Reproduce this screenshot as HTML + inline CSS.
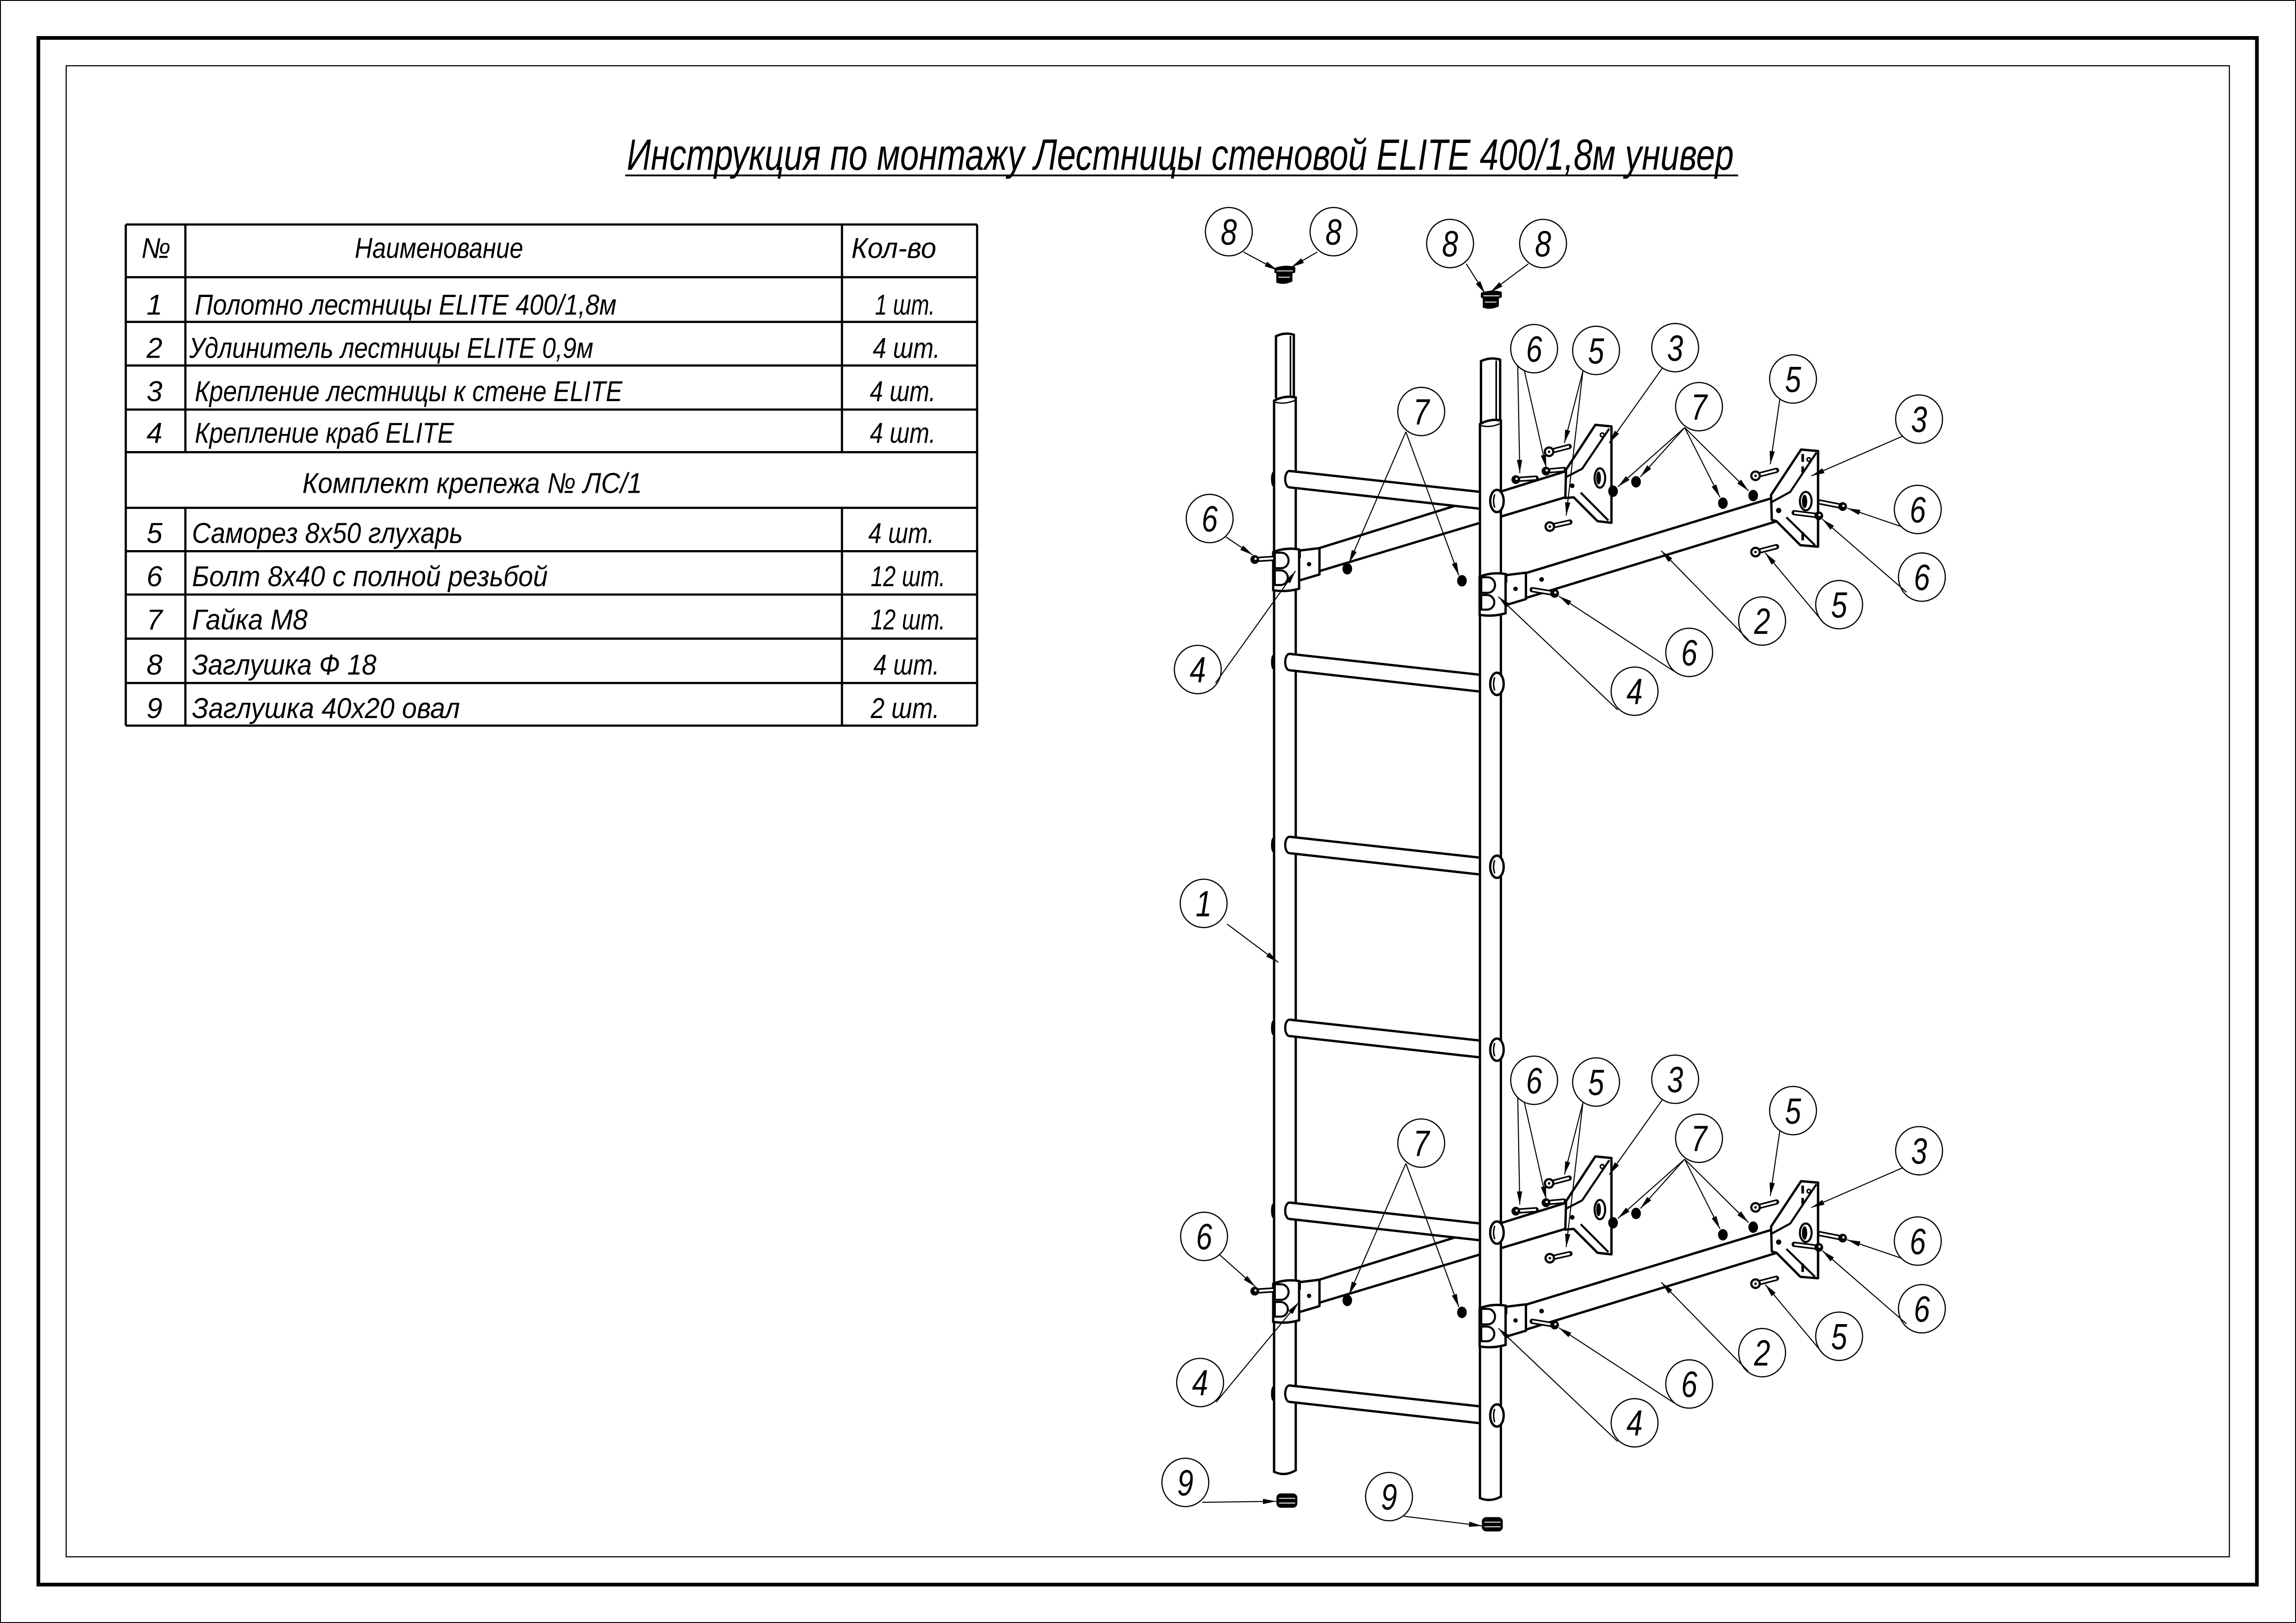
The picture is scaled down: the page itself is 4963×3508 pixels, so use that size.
<!DOCTYPE html>
<html><head><meta charset="utf-8"><style>
html,body{margin:0;padding:0;background:#fff;}
svg{display:block}
text{font-family:"Liberation Sans","DejaVu Sans",sans-serif;font-style:italic;fill:#000}
.lb{font-size:25px;text-anchor:middle}
.tb{font-size:19.5px}
.tm{font-size:19.5px;text-anchor:middle}
</style></head><body>
<svg xmlns="http://www.w3.org/2000/svg" width="4963" height="3508" viewBox="0 0 4963 3508">
<defs>
<marker id="ar" viewBox="0 0 10 4" refX="10" refY="2" markerWidth="9" markerHeight="3.6" markerUnits="userSpaceOnUse" orient="auto"><path d="M0,0 L10,2 L0,4 Z" fill="#000"/></marker>
</defs>
<rect x="0" y="0" width="4963" height="3508" fill="#fff"/>
<rect x="1" y="1" width="4961" height="3506" fill="none" stroke="#000" stroke-width="2"/>
<g transform="scale(3.16518)">
<defs>
 <g id="rung">
  <ellipse cx="880.6" cy="327.2" rx="2.9" ry="5.6" fill="#fff" stroke="#000" stroke-width="1.5"/>
  <path d="M880.6,321.6 L1012,336 L1012,347.5 L880.6,332.8 Z" fill="#fff"/>
  <path d="M880.6,321.6 L1011,335.9 M880.6,332.8 L1011,347.4" stroke="#000" stroke-width="1.6" fill="none"/>
  <ellipse cx="869.4" cy="327.2" rx="1.4" ry="5" fill="#000"/>
 </g>
 <g id="rell">
  <ellipse cx="1022.3" cy="342.1" rx="4.6" ry="7.6" fill="#fff" stroke="#000" stroke-width="1.6"/>
  <path d="M1020.8,337.6 Q1019.2,342.1 1020.8,346.6" fill="none" stroke="#000" stroke-width="1"/>
 </g>
 <g id="back">
  <path d="M901,374.3 L1081.6,318 L1079.5,336.4 L901,390" fill="#fff" stroke="#000" stroke-width="1.6" stroke-linejoin="round"/>
 </g>
 <g id="b4">
  <path d="M887,376 L901.1,374.3 L901.1,392.3 L887,396.5 Z" fill="#fff" stroke="#000" stroke-width="1.6" stroke-linejoin="round"/>
  <path d="M869.5,377 Q878,373.6 887.2,375.2 L887.2,402 Q878,404.6 869.5,403 Z" fill="#fff" stroke="#000" stroke-width="1.6"/>
  <path d="M870.6,377.4 L875,377.4 A5,5.3 0 0 1 875,388 L870.6,388 Z M870.6,389.5 L874.5,389.5 A5,5 0 0 1 874.5,399.5 L870.6,399.5 Z" fill="none" stroke="#000" stroke-width="1.4"/>
  <circle cx="894" cy="385.3" r="1.5" fill="#000"/>
  <path d="M887.8,376.5 L887.8,381" stroke="#000" stroke-width="1.2"/>
 </g>
 <g id="front">
  <path d="M1035,393.5 L1222,336.5 L1213.2,356 L1035,410.5 Z" fill="#fff" stroke="#000" stroke-width="1.6" stroke-linejoin="round"/>
  <use href="#b4"/>
  <use href="#b4" transform="translate(141,16.8)"/>
  <path d="M1069.5,320.7 L1089.5,290.1 L1100.5,291.2 L1100.5,357 L1091,355.9 L1074.7,339.6 L1069,340.1 Z" fill="#fff" stroke="#000" stroke-width="1.6" stroke-linejoin="round"/>
  <path d="M1099,292.7 L1080.5,320.1 L1069.3,325.9 M1079.5,336.4 L1098.4,355.4" fill="none" stroke="#000" stroke-width="1.4"/>
  <ellipse cx="1092.6" cy="326.4" rx="3.6" ry="6.6" fill="#fff" stroke="#000" stroke-width="1.4"/>
  <ellipse cx="1091.7" cy="326.4" rx="1.6" ry="4.5" fill="#000"/>
  <circle cx="1073.7" cy="331.7" r="1.6" fill="#000"/>
  <circle cx="1094.2" cy="297" r="1.3" fill="none" stroke="#000" stroke-width="1"/>
  <path d="M1209.5,338 L1230,307 L1241.6,308 L1241.6,373.3 L1229.5,372.3 L1213.2,355.9 L1210,355 Z" fill="#fff" stroke="#000" stroke-width="1.6" stroke-linejoin="round"/>
  <path d="M1240.5,309.1 L1222.6,335.9 L1210,342.8 M1220,353.3 L1239.5,372.3" fill="none" stroke="#000" stroke-width="1.4"/>
  <ellipse cx="1233.2" cy="342.2" rx="4" ry="6.3" fill="#fff" stroke="#000" stroke-width="1.4"/>
  <ellipse cx="1232.4" cy="342.4" rx="1.8" ry="4.6" fill="#000"/>
  <circle cx="1214.7" cy="348.6" r="1.8" fill="#000"/>
  <circle cx="1235.3" cy="313.8" r="1.2" fill="none" stroke="#000" stroke-width="1"/>
  <path d="M1231.1,310 V315.4 M1231.1,318.5 V322.8 M1231.1,363.3 V369" stroke="#000" stroke-width="1.8"/>
  <circle cx="1052.8" cy="395.7" r="1.6" fill="#000"/>
  <g stroke="#000" stroke-width="3.6" stroke-linecap="round" fill="none">
   <path d="M856.9,382.1 L869.5,381.3"/>
   <path d="M1035.2,327.5 L1049,326.5"/>
   <path d="M1055.8,321.7 L1068,320.6"/>
   <path d="M1057.9,308.5 L1071.6,304.9"/>
   <path d="M1058.4,359.6 L1072.1,356.5"/>
   <path d="M1198.9,324.9 L1213.2,321.2"/>
   <path d="M1198.9,377 L1213.2,373.3"/>
   <path d="M1242.6,342.8 L1258.4,345.9"/>
   <path d="M1225.3,350.1 L1242.1,352.2"/>
   <path d="M1046.4,402.7 L1061.7,405.2"/>
  </g>
  <g stroke="#fff" stroke-width="1.4" fill="none">
   <path d="M856.9,382.1 L869.5,381.3"/>
   <path d="M1035.2,327.5 L1049,326.5"/>
   <path d="M1055.8,321.7 L1068,320.6"/>
   <path d="M1057.9,308.5 L1071.6,304.9"/>
   <path d="M1058.4,359.6 L1072.1,356.5"/>
   <path d="M1198.9,324.9 L1213.2,321.2"/>
   <path d="M1198.9,377 L1213.2,373.3"/>
   <path d="M1242.6,342.8 L1258.4,345.9"/>
   <path d="M1225.3,350.1 L1242.1,352.2"/>
   <path d="M1046.4,402.7 L1061.7,405.2"/>
  </g>
  <g fill="#000">
   <circle cx="856.9" cy="382.1" r="3"/>
   <circle cx="1035.2" cy="327.5" r="3"/>
   <circle cx="1055.8" cy="321.7" r="3"/>
   <circle cx="1258.4" cy="345.9" r="3"/>
   <circle cx="1242.1" cy="352.2" r="3"/>
   <circle cx="1061.7" cy="405.2" r="3"/>
  </g>
  <g fill="#fff">
   <circle cx="857.4" cy="381.6" r="0.8"/>
   <circle cx="1035.7" cy="327" r="0.8"/>
   <circle cx="1056.3" cy="321.2" r="0.8"/>
   <circle cx="1258.9" cy="345.4" r="0.8"/>
   <circle cx="1242.6" cy="351.7" r="0.8"/>
   <circle cx="1062.2" cy="404.7" r="0.8"/>
  </g>
  <g fill="#fff" stroke="#000" stroke-width="1.5">
   <circle cx="1057.9" cy="308.5" r="2.9"/>
   <circle cx="1058.4" cy="359.6" r="2.9"/>
   <circle cx="1198.9" cy="324.9" r="2.9"/>
   <circle cx="1198.9" cy="377" r="2.9"/>
  </g>
  <g fill="#000">
   <circle cx="1057.9" cy="308.5" r="0.9"/>
   <circle cx="1058.4" cy="359.6" r="0.9"/>
   <circle cx="1198.9" cy="324.9" r="0.9"/>
   <circle cx="1198.9" cy="377" r="0.9"/>
  </g>
  <g fill="#000">
   <ellipse cx="920.1" cy="388.4" rx="3.3" ry="3.9"/>
   <ellipse cx="998.4" cy="396.6" rx="3.3" ry="3.9"/>
   <ellipse cx="1101.6" cy="335.4" rx="3.3" ry="3.9"/>
   <ellipse cx="1117.3" cy="329" rx="3.3" ry="3.9"/>
   <ellipse cx="1176.6" cy="343.6" rx="3.3" ry="3.9"/>
   <ellipse cx="1197.3" cy="338.4" rx="3.3" ry="3.9"/>
  </g>
  <g stroke="#000" stroke-width="0.7" fill="none" marker-end="url(#ar)">
   <path d="M1036.5,249.5 L1037.9,323"/>
   <path d="M1041,253 L1056,319.5"/>
   <path d="M1081,253.5 L1068.4,302.5"/>
   <path d="M1081,253.5 L1069.6,352"/>
   <path d="M1135.5,251 L1099,302.5"/>
   <path d="M1150.5,292 L1104.9,332.4"/>
   <path d="M1150.5,292 L1120.3,325.6"/>
   <path d="M1150.5,292 L1174.6,339.6"/>
   <path d="M1150.5,292 L1194.1,335.2"/>
   <path d="M1215.5,272.5 L1209,317"/>
   <path d="M1299,298 L1237,325"/>
   <path d="M1299.1,359.8 L1261.5,347"/>
   <path d="M1302,404.4 L1244.5,354.5"/>
   <path d="M1246,426 L1205.5,377.5"/>
   <path d="M1194,437 L1134.5,376.1"/>
   <path d="M1143.1,458.3 L1064.6,407.1"/>
   <path d="M1104.8,484.8 L1023.3,407.5"/>
   <path d="M960.1,294.9 L921.3,384.5"/>
   <path d="M960.1,294.9 L996.3,393"/>
  </g>
  <g fill="none" stroke="#000" stroke-width="0.8">
   <ellipse cx="1047.7" cy="238.1" rx="16" ry="16.5"/>
   <ellipse cx="1090" cy="239.3" rx="16" ry="16.5"/>
   <ellipse cx="1144" cy="237.4" rx="16" ry="16.5"/>
   <ellipse cx="1160.3" cy="277.7" rx="16" ry="16.5"/>
   <ellipse cx="1224.5" cy="258.8" rx="16" ry="16.5"/>
   <ellipse cx="1310.6" cy="286.2" rx="16" ry="16.5"/>
   <ellipse cx="1309.7" cy="347.9" rx="16" ry="16.5"/>
   <ellipse cx="1312.5" cy="394.1" rx="16" ry="16.5"/>
   <ellipse cx="1256" cy="412.9" rx="16" ry="16.5"/>
   <ellipse cx="1203.4" cy="424.1" rx="16" ry="16.5"/>
   <ellipse cx="1153.6" cy="445.5" rx="16" ry="16.5"/>
   <ellipse cx="1116.3" cy="472" rx="16" ry="16.5"/>
   <ellipse cx="970.6" cy="281" rx="16" ry="16.5"/>
  </g>
 </g>
 <g id="cap8">
  <path d="M870.3,183 Q877.5,180.3 884.6,182.3 L884.6,186 L882.6,186.8 L882.6,192.2 Q877,195 871.6,193 L871.6,186.8 L870.3,186 Z" fill="#000"/>
  <path d="M873,189.3 L881,189.3 M872,185 L883,185" stroke="#fff" stroke-width="0.6"/>
 </g>
 <g id="cap9">
  <rect x="871.7" y="1019.8" width="14.3" height="9.8" rx="3" fill="#000"/>
  <path d="M873.5,1023.2 L884.5,1023.2 M873.5,1026.4 L884.5,1026.4" stroke="#fff" stroke-width="0.6"/>
 </g>
</defs>

<rect x="26.2" y="25.9" width="1515.1" height="1056.2" fill="none" stroke="#000" stroke-width="2.53"/>
<rect x="45.2" y="44.9" width="1477.3" height="1018.2" fill="none" stroke="#000" stroke-width="0.75"/>

<text x="428" y="116" style="font-size:30px" textLength="756" lengthAdjust="spacingAndGlyphs">Инструкция по монтажу Лестницы стеновой ELITE 400/1,8м универ</text>
<path d="M427,119.8 L1187,119.8" stroke="#000" stroke-width="1.25"/>

<g stroke="#000" stroke-width="1.5" fill="none">
 <path d="M85.9,153.3 L667.3,153.3 M85.9,189.3 L667.3,189.3 M85.9,219.8 L667.3,219.8 M85.9,249.6 L667.3,249.6 M85.9,279.7 L667.3,279.7 M85.9,308.8 L667.3,308.8 M85.9,346.8 L667.3,346.8 M85.9,376.4 L667.3,376.4 M85.9,406 L667.3,406 M85.9,436.1 L667.3,436.1 M85.9,466.4 L667.3,466.4 M85.9,495.5 L667.3,495.5"/>
 <path d="M85.9,153.3 L85.9,495.5 M667.3,153.3 L667.3,495.5 M126.6,153.3 L126.6,308.8 M575,153.3 L575,308.8 M126.6,346.8 L126.6,495.5 M575,346.8 L575,495.5"/>
</g>
<text class="tm" x="106.5" y="176.1" textLength="20" lengthAdjust="spacingAndGlyphs">№</text>
<text class="tb" x="242.3" y="176.1" textLength="115" lengthAdjust="spacingAndGlyphs">Наименование</text>
<text class="tb" x="581.4" y="176.1" textLength="58" lengthAdjust="spacingAndGlyphs">Кол-во</text>

<text class="tm" x="105.5" y="214.8">1</text>
<text class="tb" x="133" y="214.8" textLength="288" lengthAdjust="spacingAndGlyphs">Полотно лестницы ELITE 400/1,8м</text>
<text class="tb" x="597.5" y="214.8" textLength="41" lengthAdjust="spacingAndGlyphs">1 шт.</text>

<text class="tm" x="105.5" y="244.4">2</text>
<text class="tb" x="129.2" y="244.4" textLength="276" lengthAdjust="spacingAndGlyphs">Удлинитель лестницы ELITE 0,9м</text>
<text class="tb" x="596" y="244.4" textLength="46" lengthAdjust="spacingAndGlyphs">4 шт.</text>

<text class="tm" x="105.5" y="274">3</text>
<text class="tb" x="133" y="274" textLength="292" lengthAdjust="spacingAndGlyphs">Крепление лестницы к стене ELITE</text>
<text class="tb" x="594" y="274" textLength="45" lengthAdjust="spacingAndGlyphs">4 шт.</text>

<text class="tm" x="105.5" y="302.4">4</text>
<text class="tb" x="133" y="302.4" textLength="177" lengthAdjust="spacingAndGlyphs">Крепление краб ELITE</text>
<text class="tb" x="594" y="302.4" textLength="45" lengthAdjust="spacingAndGlyphs">4 шт.</text>

<text class="tb" x="206.5" y="336.6" textLength="232" lengthAdjust="spacingAndGlyphs">Комплект крепежа № ЛС/1</text>

<text class="tm" x="105.5" y="370.8">5</text>
<text class="tb" x="131.1" y="370.8" textLength="185" lengthAdjust="spacingAndGlyphs">Саморез 8x50 глухарь</text>
<text class="tb" x="593" y="370.8" textLength="45" lengthAdjust="spacingAndGlyphs">4 шт.</text>

<text class="tm" x="105.5" y="400.3">6</text>
<text class="tb" x="131.1" y="400.3" textLength="243" lengthAdjust="spacingAndGlyphs">Болт 8x40 с полной резьбой</text>
<text class="tb" x="594.6" y="400.3" textLength="51" lengthAdjust="spacingAndGlyphs">12 шт.</text>

<text class="tm" x="105.5" y="429.9">7</text>
<text class="tb" x="131.1" y="429.9" textLength="79" lengthAdjust="spacingAndGlyphs">Гайка М8</text>
<text class="tb" x="594.6" y="429.9" textLength="51" lengthAdjust="spacingAndGlyphs">12 шт.</text>

<text class="tm" x="105.5" y="460.7">8</text>
<text class="tb" x="131.1" y="460.7" textLength="126" lengthAdjust="spacingAndGlyphs">Заглушка Ф 18</text>
<text class="tb" x="596.5" y="460.7" textLength="45" lengthAdjust="spacingAndGlyphs">4 шт.</text>

<text class="tm" x="105.5" y="490.3">9</text>
<text class="tb" x="131.1" y="490.3" textLength="183" lengthAdjust="spacingAndGlyphs">Заглушка 40x20 овал</text>
<text class="tb" x="594.6" y="490.3" textLength="47" lengthAdjust="spacingAndGlyphs">2 шт.</text>

<path d="M871.4,272 L871.4,229.6 Q877.3,226.6 883.6,228.6 L883.6,272" fill="#fff" stroke="#000" stroke-width="1.6"/>
<path d="M881.3,229.4 L881.3,271" stroke="#000" stroke-width="1.1"/>
<path d="M870.1,273.6 Q877.3,269.8 884.9,271.4 L884.9,1004 Q877.3,1008.6 870.1,1005 Z" fill="#fff" stroke="#000" stroke-width="1.6"/>
<path d="M870.6,274.6 Q877.3,276.4 884.4,273.4" fill="none" stroke="#000" stroke-width="0.9"/>

<use href="#back"/>
<use href="#back" transform="translate(0,499.6)"/>

<use href="#rung"/>
<use href="#rung" transform="translate(0,124.9)"/>
<use href="#rung" transform="translate(0,249.8)"/>
<use href="#rung" transform="translate(0,374.7)"/>
<use href="#rung" transform="translate(0,499.6)"/>
<use href="#rung" transform="translate(0,624.5)"/>

<path d="M1011.4,289 L1011.4,246.6 Q1017.8,243.6 1024.5,245.6 L1024.5,289" fill="#fff" stroke="#000" stroke-width="1.6"/>
<path d="M1021.8,246.2 L1021.8,288" stroke="#000" stroke-width="1.1"/>
<path d="M1010.7,289.6 Q1017.8,285.6 1025,287.2 L1025,1022 Q1017.8,1026 1010.7,1023 Z" fill="#fff" stroke="#000" stroke-width="1.6"/>
<path d="M1011.2,290.6 Q1017.8,292.4 1024.5,289.2" fill="none" stroke="#000" stroke-width="0.9"/>

<use href="#rell"/>
<use href="#rell" transform="translate(0,124.9)"/>
<use href="#rell" transform="translate(0,249.8)"/>
<use href="#rell" transform="translate(0,374.7)"/>
<use href="#rell" transform="translate(0,499.6)"/>
<use href="#rell" transform="translate(0,624.5)"/>

<use href="#front"/>
<use href="#front" transform="translate(0,499.6)"/>

<use href="#cap8"/>
<use href="#cap8" transform="translate(141,17)"/>
<use href="#cap9"/>
<use href="#cap9" transform="translate(140.3,16.2)"/>

<g stroke="#000" stroke-width="0.7" fill="none" marker-end="url(#ar)">
 <path d="M837.2,366.7 L855.5,379"/>
 <path d="M830.1,466.4 L884.7,390"/>
 <path d="M832.4,856.4 L857.3,878.6"/>
 <path d="M830.5,957.5 L887,889.3"/>
 <path d="M838,631 L873,657.2"/>
 <path d="M821,1025.9 L871.5,1025.2"/>
 <path d="M958.8,1035.4 L1012.2,1042"/>
 <path d="M849.2,172.1 L872.4,184.5"/>
 <path d="M899.6,172.1 L881.8,182.5"/>
 <path d="M1001.4,180.2 L1014.2,200.5"/>
 <path d="M1043.7,180.2 L1017.8,199.5"/>
</g>
<g fill="none" stroke="#000" stroke-width="0.8">
 <ellipse cx="826.1" cy="354.1" rx="16" ry="16.5"/>
 <ellipse cx="818" cy="457.2" rx="16" ry="16.5"/>
 <ellipse cx="822.3" cy="844.3" rx="16" ry="16.5"/>
 <ellipse cx="819.6" cy="944.1" rx="16" ry="16.5"/>
 <ellipse cx="822" cy="616.9" rx="16" ry="16.5"/>
 <ellipse cx="809.5" cy="1012.3" rx="16" ry="16.5"/>
 <ellipse cx="948.6" cy="1022" rx="16" ry="16.5"/>
 <ellipse cx="839.2" cy="158.2" rx="16" ry="16.5"/>
 <ellipse cx="910.7" cy="158.2" rx="16" ry="16.5"/>
 <ellipse cx="990.3" cy="166.3" rx="16" ry="16.5"/>
 <ellipse cx="1053.8" cy="166.3" rx="16" ry="16.5"/>
</g>

<g>
 <text class="lb" x="839.2" y="167" textLength="11" lengthAdjust="spacingAndGlyphs">8</text>
 <text class="lb" x="910.7" y="167" textLength="11" lengthAdjust="spacingAndGlyphs">8</text>
 <text class="lb" x="990.3" y="175.1" textLength="11" lengthAdjust="spacingAndGlyphs">8</text>
 <text class="lb" x="1053.8" y="175.1" textLength="11" lengthAdjust="spacingAndGlyphs">8</text>

 <text class="lb" x="826.1" y="362.9" textLength="11" lengthAdjust="spacingAndGlyphs">6</text>
 <text class="lb" x="818" y="466" textLength="11" lengthAdjust="spacingAndGlyphs">4</text>
 <text class="lb" x="822.3" y="853.1" textLength="11" lengthAdjust="spacingAndGlyphs">6</text>
 <text class="lb" x="819.6" y="952.9" textLength="11" lengthAdjust="spacingAndGlyphs">4</text>
 <text class="lb" x="822" y="625.7" textLength="11" lengthAdjust="spacingAndGlyphs">1</text>
 <text class="lb" x="809.5" y="1021.1" textLength="11" lengthAdjust="spacingAndGlyphs">9</text>
 <text class="lb" x="948.6" y="1030.8" textLength="11" lengthAdjust="spacingAndGlyphs">9</text>

 <text class="lb" x="1047.7" y="246.9" textLength="11" lengthAdjust="spacingAndGlyphs">6</text>
 <text class="lb" x="1090" y="248.1" textLength="11" lengthAdjust="spacingAndGlyphs">5</text>
 <text class="lb" x="1144" y="246.2" textLength="11" lengthAdjust="spacingAndGlyphs">3</text>
 <text class="lb" x="1160.3" y="286.5" textLength="11" lengthAdjust="spacingAndGlyphs">7</text>
 <text class="lb" x="1224.5" y="267.6" textLength="11" lengthAdjust="spacingAndGlyphs">5</text>
 <text class="lb" x="1310.6" y="295" textLength="11" lengthAdjust="spacingAndGlyphs">3</text>
 <text class="lb" x="1309.7" y="356.7" textLength="11" lengthAdjust="spacingAndGlyphs">6</text>
 <text class="lb" x="1312.5" y="402.9" textLength="11" lengthAdjust="spacingAndGlyphs">6</text>
 <text class="lb" x="1256" y="421.7" textLength="11" lengthAdjust="spacingAndGlyphs">5</text>
 <text class="lb" x="1203.4" y="432.9" textLength="11" lengthAdjust="spacingAndGlyphs">2</text>
 <text class="lb" x="1153.6" y="454.3" textLength="11" lengthAdjust="spacingAndGlyphs">6</text>
 <text class="lb" x="1116.3" y="480.8" textLength="11" lengthAdjust="spacingAndGlyphs">4</text>
 <text class="lb" x="970.6" y="289.8" textLength="11" lengthAdjust="spacingAndGlyphs">7</text>

 <text class="lb" x="1047.7" y="746.5" textLength="11" lengthAdjust="spacingAndGlyphs">6</text>
 <text class="lb" x="1090" y="747.7" textLength="11" lengthAdjust="spacingAndGlyphs">5</text>
 <text class="lb" x="1144" y="745.8" textLength="11" lengthAdjust="spacingAndGlyphs">3</text>
 <text class="lb" x="1160.3" y="786.1" textLength="11" lengthAdjust="spacingAndGlyphs">7</text>
 <text class="lb" x="1224.5" y="767.2" textLength="11" lengthAdjust="spacingAndGlyphs">5</text>
 <text class="lb" x="1310.6" y="794.6" textLength="11" lengthAdjust="spacingAndGlyphs">3</text>
 <text class="lb" x="1309.7" y="856.3" textLength="11" lengthAdjust="spacingAndGlyphs">6</text>
 <text class="lb" x="1312.5" y="902.5" textLength="11" lengthAdjust="spacingAndGlyphs">6</text>
 <text class="lb" x="1256" y="921.3" textLength="11" lengthAdjust="spacingAndGlyphs">5</text>
 <text class="lb" x="1203.4" y="932.5" textLength="11" lengthAdjust="spacingAndGlyphs">2</text>
 <text class="lb" x="1153.6" y="953.9" textLength="11" lengthAdjust="spacingAndGlyphs">6</text>
 <text class="lb" x="1116.3" y="980.4" textLength="11" lengthAdjust="spacingAndGlyphs">4</text>
 <text class="lb" x="970.6" y="789.4" textLength="11" lengthAdjust="spacingAndGlyphs">7</text>
</g>
</g>
</svg>
</body></html>
